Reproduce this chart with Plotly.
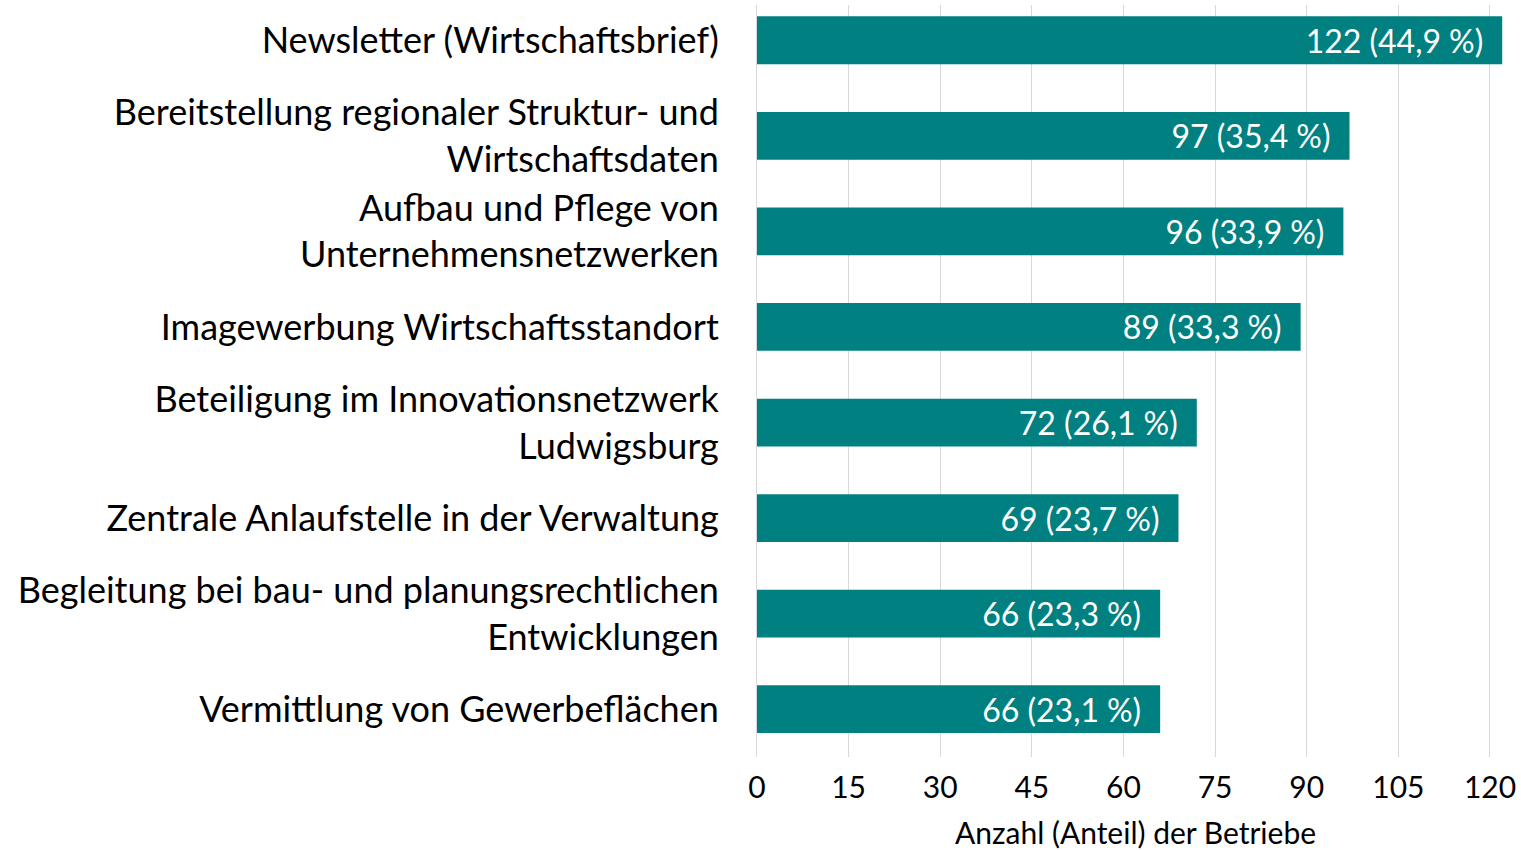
import plotly.graph_objects as go

categories = [
    "Newsletter (Wirtschaftsbrief)",
    "Bereitstellung regionaler Struktur- und<br>Wirtschaftsdaten",
    "Aufbau und Pflege von<br>Unternehmensnetzwerken",
    "Imagewerbung Wirtschaftsstandort",
    "Beteiligung im Innovationsnetzwerk<br>Ludwigsburg",
    "Zentrale Anlaufstelle in der Verwaltung",
    "Begleitung bei bau- und planungsrechtlichen<br>Entwicklungen",
    "Vermittlung von Gewerbeflächen",
]
counts = [122, 97, 96, 89, 72, 69, 66, 66]
shares = ["44,9", "35,4", "33,9", "33,3", "26,1", "23,7", "23,3", "23,1"]
x_ticks = [0, 15, 30, 45, 60, 75, 90, 105, 120]
x_title = "Anzahl (Anteil) der Betriebe"

labels = [f"{c} ({s}\u202f%)\u2002" for c, s in zip(counts, shares)]

FONT = "Lato"
fig = go.Figure(go.Bar(
    x=counts, y=categories, orientation="h",
    marker=dict(color="#008080", line=dict(width=0)),
    text=labels, textposition="inside", insidetextanchor="end",
    textfont=dict(color="white", size=32, family=FONT),
    width=0.5, hoverinfo="skip",
))
fig.update_layout(
    width=1521, height=850,
    margin=dict(l=757, r=7, t=5, b=93),
    plot_bgcolor="white", paper_bgcolor="white",
    font=dict(family=FONT, color="black"),
    showlegend=False,
)
fig.update_xaxes(
    automargin=False,
    range=[0, 123.93], tickvals=x_ticks, ticktext=[str(v) for v in x_ticks],
    showgrid=True, gridcolor="#d9d9d9", gridwidth=1, zeroline=False,
    showline=False, tickfont=dict(size=30, color="black"),
    ticks="", ticklabelstandoff=10, ticklabeloverflow="allow",
    title=dict(text=x_title, font=dict(size=30, color="black"), standoff=26),
)
fig.update_yaxes(
    automargin=False,
    categoryorder="array", categoryarray=categories,
    range=[7.5, -0.369], showgrid=False, zeroline=False,
    showline=True, linecolor="#d9d9d9", linewidth=1,
    tickfont=dict(size=36, color="black"), ticks="", ticklabelstandoff=30,
)
fig.write_html(
    "out.html",
    config={"displayModeBar": False},
    post_script="document.body.style.margin='0';document.body.style.overflow='hidden';",
)
